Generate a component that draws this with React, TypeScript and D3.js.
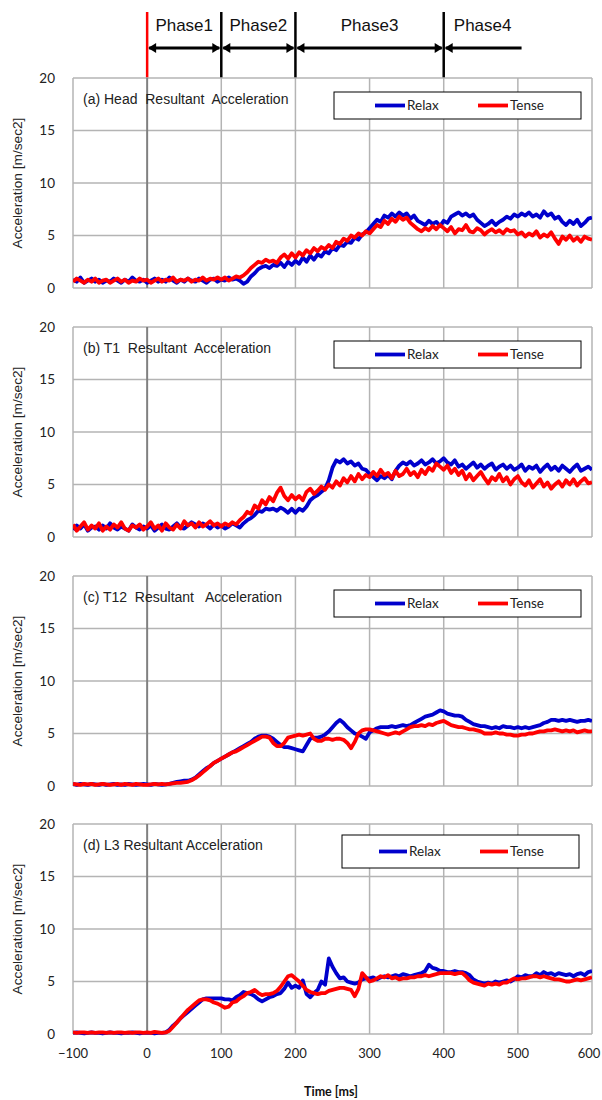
import React from "react";
import * as d3 from "d3";

// Sampling grid of the recorded signals (ms)
const SAMPLE_START = -100;
const SAMPLE_STEP = 5;

const X_TICKS = [-100, 0, 100, 200, 300, 400, 500, 600];
const Y_TICKS = [0, 5, 10, 15, 20];

const PANEL_TITLES = [
  "(a) Head  Resultant  Acceleration",
  "(b) T1  Resultant  Acceleration",
  "(c) T12  Resultant   Acceleration",
  "(d) L3 Resultant Acceleration",
];

const SERIES_NAMES = ["Relax", "Tense"];
const PHASE_NAMES = ["Phase1", "Phase2", "Phase3", "Phase4"];
const PHASE_BOUNDS = [0, 100, 200, 400, 505];

// (a) Head
const headRelax = [
  0.8,0.6,1.0,0.5,0.7,0.9,0.6,0.8,0.5,0.7,0.6,0.9,0.7,0.5,0.8,0.6,1.0,0.7,0.6,0.8,
  0.5,0.7,0.9,0.6,0.8,0.6,1.0,0.7,0.5,0.8,0.6,0.9,0.7,0.6,0.9,0.7,0.5,0.8,0.9,0.6,
  0.8,0.7,1.0,0.8,0.9,0.7,0.4,0.6,1.1,1.4,1.8,2.0,2.1,1.9,2.2,2.1,2.4,2.0,2.5,2.2,
  2.6,2.3,2.9,2.5,3.1,2.7,3.2,3.0,3.5,3.3,3.8,3.6,4.1,4.0,4.4,4.3,4.8,4.6,5.1,5.3,
  5.7,6.1,6.5,6.3,6.9,6.7,7.1,6.8,7.2,6.9,7.1,6.6,6.9,6.4,6.2,6.0,6.4,6.1,6.3,5.9,
  6.4,6.2,6.8,7.0,7.2,6.9,7.1,6.8,7.0,6.5,6.2,5.9,6.1,6.4,6.0,6.3,6.5,6.8,6.6,7.0,
  6.8,7.1,6.9,7.2,6.8,7.0,6.7,7.3,6.9,7.1,6.6,6.8,6.3,6.0,6.4,6.1,6.5,5.9,6.2,6.6,
  6.7,
];
const headTense = [
  0.6,0.9,0.7,0.5,0.8,0.6,0.9,0.5,0.7,0.8,0.5,0.7,0.9,0.6,0.8,0.5,0.7,0.6,0.9,0.7,
  0.8,0.5,0.7,0.9,0.6,0.8,0.7,1.0,0.6,0.8,0.7,0.9,0.6,0.8,0.7,1.0,0.7,0.9,0.8,1.0,
  0.8,1.0,0.7,0.9,1.1,1.0,1.2,1.5,1.9,2.2,2.5,2.4,2.7,2.5,2.6,2.4,2.9,3.2,2.8,3.3,
  2.9,3.4,3.1,3.6,3.3,3.8,3.5,3.9,3.7,4.1,3.8,4.4,4.2,4.7,4.5,5.0,4.8,5.2,5.0,5.4,
  5.2,5.6,6.0,5.8,6.4,6.1,6.6,6.3,6.8,6.5,6.7,6.2,5.9,5.6,5.4,5.7,5.5,5.9,5.6,6.0,
  5.7,5.4,5.8,5.2,5.6,5.5,6.0,5.4,5.3,5.7,5.5,5.1,5.4,5.6,5.3,5.5,5.2,5.6,5.4,5.5,
  5.1,5.3,4.9,5.2,5.0,5.4,4.8,5.1,4.9,5.3,4.7,4.2,4.9,4.6,5.0,4.5,4.8,4.4,4.9,4.7,
  4.6,
];

// (b) T1
const t1Relax = [
  0.7,1.1,0.8,1.2,0.6,0.9,1.0,0.7,1.1,0.8,1.3,0.9,0.7,1.0,0.8,0.6,1.2,0.9,0.7,1.0,
  0.8,1.1,0.6,0.9,1.2,0.8,0.7,1.0,1.3,0.9,0.8,1.1,1.4,1.2,1.0,1.3,1.1,0.8,1.2,0.9,
  1.1,0.8,1.0,1.3,1.1,0.9,1.3,1.6,1.8,2.1,2.5,2.4,2.7,2.6,2.7,2.5,2.8,2.6,2.3,2.7,
  2.3,2.7,2.5,2.9,3.5,3.8,4.0,4.3,4.6,5.4,6.6,7.3,7.1,7.4,7.0,7.2,6.8,7.0,6.5,6.4,
  6.0,5.7,5.4,5.8,5.6,5.9,5.5,6.3,6.8,7.1,6.9,7.2,6.8,7.0,7.3,6.9,7.1,7.4,7.0,7.2,
  7.5,7.1,6.9,7.3,6.7,6.9,6.5,6.8,7.1,6.6,6.9,6.5,6.8,7.0,6.4,6.7,6.9,6.5,6.8,6.4,
  6.6,6.9,6.3,6.7,6.5,6.8,6.2,6.6,6.9,6.4,6.7,6.3,6.8,6.5,6.2,6.6,6.9,6.3,6.5,6.7,
  6.4,
];
const t1Tense = [
  1.2,0.6,1.0,1.4,0.7,1.1,0.8,1.3,0.6,1.0,0.7,1.2,0.9,1.4,0.8,0.6,1.1,0.9,1.2,0.7,
  1.0,1.4,0.8,1.1,0.6,1.3,0.9,0.7,1.2,0.8,1.5,1.1,1.3,0.9,1.4,1.0,1.2,1.5,1.1,1.3,
  1.0,1.3,1.1,1.4,1.2,1.6,1.9,2.4,2.2,3.0,2.7,3.5,3.1,3.8,3.4,4.2,4.7,3.9,3.5,4.0,
  3.6,3.9,3.5,4.3,4.6,4.1,4.4,4.8,4.5,5.0,4.7,5.3,4.9,5.6,5.2,5.8,5.3,6.0,5.5,5.9,
  5.7,6.2,5.8,6.4,5.9,6.1,5.6,6.3,5.8,6.0,6.5,5.9,6.2,5.7,6.4,6.0,6.6,6.3,7.0,6.7,
  6.4,6.8,6.1,6.5,5.9,6.3,5.5,6.0,5.4,5.8,6.2,5.6,5.1,5.7,5.4,6.0,5.3,5.7,5.0,5.5,
  5.8,5.2,4.9,5.4,4.7,5.1,5.5,4.8,5.2,4.6,5.0,5.3,4.8,5.4,5.0,5.5,4.9,5.3,5.6,5.1,
  5.2,
];

// (c) T12
const t12Relax = [
  0.2,0.1,0.2,0.15,0.1,0.2,0.15,0.1,0.2,0.1,0.15,0.2,0.1,0.15,0.1,0.2,0.15,0.1,0.15,0.2,
  0.15,0.1,0.2,0.15,0.1,0.15,0.2,0.3,0.4,0.45,0.5,0.5,0.6,0.8,1.1,1.4,1.7,1.9,2.2,2.4,
  2.6,2.8,3.0,3.2,3.4,3.6,3.8,4.0,4.2,4.5,4.7,4.8,4.8,4.7,4.5,4.2,3.9,3.7,3.7,3.6,
  3.5,3.4,3.3,3.9,4.5,4.6,4.6,4.7,4.9,5.2,5.6,6.0,6.3,6.0,5.6,5.3,5.0,4.9,4.7,4.5,
  5.1,5.3,5.5,5.6,5.6,5.6,5.7,5.6,5.7,5.8,5.7,5.8,6.0,6.2,6.4,6.6,6.7,6.8,7.0,7.2,
  7.1,6.9,6.8,6.7,6.7,6.6,6.3,6.1,5.9,5.8,5.7,5.7,5.6,5.5,5.6,5.5,5.7,5.6,5.6,5.5,
  5.6,5.5,5.6,5.5,5.6,5.7,5.8,6.0,6.1,6.3,6.3,6.2,6.3,6.2,6.3,6.2,6.1,6.2,6.2,6.3,
  6.2,
];
const t12Tense = [
  0.2,0.15,0.1,0.2,0.15,0.2,0.1,0.15,0.2,0.15,0.1,0.15,0.2,0.1,0.2,0.15,0.1,0.2,0.15,0.1,
  0.1,0.15,0.2,0.15,0.2,0.15,0.2,0.25,0.3,0.3,0.35,0.4,0.55,0.75,1.0,1.3,1.6,1.9,2.2,2.4,
  2.6,2.8,3.0,3.2,3.3,3.5,3.7,3.9,4.1,4.3,4.5,4.7,4.7,4.6,4.1,3.8,3.8,4.1,4.6,4.7,
  4.8,4.9,4.8,4.9,5.0,4.5,4.3,4.3,4.5,4.5,4.4,4.5,4.5,4.4,4.1,3.6,4.2,5.0,5.3,5.4,
  5.4,5.3,5.2,5.1,5.0,4.9,5.0,5.1,5.0,5.2,5.4,5.6,5.7,5.7,5.8,5.7,5.9,5.8,6.0,6.1,
  6.2,6.0,5.8,5.7,5.6,5.6,5.5,5.4,5.4,5.3,5.2,5.0,5.0,5.0,5.1,5.0,5.0,4.9,4.9,4.8,
  4.8,4.9,4.9,5.0,5.0,5.1,5.2,5.2,5.3,5.3,5.4,5.3,5.2,5.3,5.2,5.3,5.1,5.2,5.3,5.2,
  5.2,
];

// (d) L3
const l3Relax = [
  0.1,0.15,0.1,0.05,0.1,0.15,0.1,0.1,0.05,0.1,0.15,0.1,0.1,0.05,0.1,0.1,0.15,0.1,0.05,0.1,
  0.1,0.1,0.05,0.1,0.1,0.15,0.4,0.8,1.1,1.5,1.8,2.1,2.4,2.7,3.0,3.3,3.4,3.4,3.4,3.4,
  3.4,3.3,3.3,3.2,3.5,3.7,4.0,3.9,3.8,3.6,3.3,3.1,3.3,3.5,3.6,3.8,3.9,4.3,4.9,4.4,
  4.6,4.4,5.1,3.8,3.5,3.9,4.2,5.0,4.7,7.2,6.4,5.8,5.3,5.4,5.0,4.9,4.8,4.9,5.2,5.3,
  5.3,5.4,5.2,5.4,5.5,5.4,5.5,5.6,5.5,5.7,5.6,5.5,5.6,5.7,5.8,6.0,6.6,6.3,6.2,6.0,
  6.0,5.9,5.9,6.0,5.9,5.9,5.8,5.6,5.2,5.0,4.9,4.8,4.9,4.8,5.0,4.9,5.0,5.1,5.0,5.2,
  5.5,5.4,5.6,5.5,5.5,5.8,5.6,5.9,5.7,5.8,5.6,5.8,5.7,5.6,5.7,5.5,5.7,5.8,5.6,5.9,
  6.0,
];
const l3Tense = [
  0.15,0.1,0.15,0.15,0.1,0.15,0.1,0.15,0.15,0.1,0.15,0.1,0.15,0.15,0.1,0.15,0.1,0.15,0.15,0.1,
  0.15,0.1,0.2,0.15,0.1,0.15,0.3,0.7,1.1,1.5,1.9,2.3,2.6,2.9,3.2,3.3,3.3,3.2,3.0,2.9,
  2.7,2.5,2.6,3.0,3.1,3.4,3.6,3.9,4.0,4.2,3.9,3.7,3.8,3.8,3.9,4.1,4.5,5.0,5.5,5.6,
  5.3,5.0,4.6,4.2,4.0,3.9,3.8,3.9,3.9,4.1,4.2,4.3,4.4,4.4,4.3,4.2,3.6,4.3,5.8,5.4,
  5.0,5.1,5.3,5.5,5.4,5.6,5.3,5.4,5.2,5.3,5.3,5.4,5.4,5.5,5.5,5.6,5.5,5.6,5.7,5.8,
  5.8,5.8,5.8,5.7,5.8,5.8,5.5,5.1,4.9,4.8,4.7,4.6,4.8,4.7,4.8,4.7,4.9,4.9,5.1,5.3,
  5.2,5.3,5.3,5.4,5.5,5.5,5.4,5.5,5.4,5.3,5.2,5.2,5.1,5.0,5.0,5.1,5.2,5.1,5.2,5.3,
  5.4,
];

const PANEL_SERIES = [
  [headRelax, headTense],
  [t1Relax, t1Tense],
  [t12Relax, t12Tense],
  [l3Relax, l3Tense],
];

// ---- layout ----
const W = 602;
const H = 1100;
const PLOT_LEFT = 73;
const PLOT_RIGHT = 592;
const PANEL_TOPS = [78, 327, 576, 824];
const PANEL_H = 210;
const COLORS = ["#0000cc", "#ff0000"];
const LINE_W = 3.8;

// legend geometry per panel (box x0, x1, top offset, bottom offset, item offsets)
const LEGENDS = [
  { x0: 334, x1: 581, t: 14, b: 41, l1: 375, l2: 478, len: 30 },
  { x0: 334, x1: 581, t: 14, b: 41, l1: 375, l2: 478, len: 30 },
  { x0: 334, x1: 581, t: 14, b: 41, l1: 375, l2: 478, len: 30 },
  { x0: 342, x1: 579, t: 11, b: 44, l1: 379, l2: 480, len: 28 },
];

const x = d3.scaleLinear().domain([-100, 600]).range([PLOT_LEFT, PLOT_RIGHT]);

const SANS = "'Liberation Sans', Arial, sans-serif";
const CAL = "Lato, 'Open Sans', sans-serif";

function Panel({ idx }: { idx: number }) {
  const top = PANEL_TOPS[idx];
  const y = d3.scaleLinear().domain([0, 20]).range([top + PANEL_H, top]);
  const line = d3
    .line<number>()
    .x((_, i) => x(SAMPLE_START + i * SAMPLE_STEP))
    .y((v) => y(v))
    .curve(d3.curveLinear);
  const lg = LEGENDS[idx];
  const cy = top + (lg.t + lg.b) / 2;
  const clipId = `clip-${idx}`;
  return (
    <g>
      <defs>
        <clipPath id={clipId}>
          <rect x={PLOT_LEFT} y={top - 2} width={PLOT_RIGHT - PLOT_LEFT} height={PANEL_H + 4} />
        </clipPath>
      </defs>
      {/* horizontal grid */}
      {Y_TICKS.map((t) => (
        <line key={"h" + t} x1={PLOT_LEFT} x2={PLOT_RIGHT} y1={y(t)} y2={y(t)} stroke="#b4b4b4" strokeWidth={1.5} />
      ))}
      {/* vertical grid */}
      {X_TICKS.map((t) => (
        <line
          key={"v" + t}
          x1={x(t)}
          x2={x(t)}
          y1={top}
          y2={top + PANEL_H}
          stroke={t === 0 ? "#808080" : "#b4b4b4"}
          strokeWidth={t === 0 ? 2 : 1.5}
        />
      ))}
      {/* y tick labels */}
      {Y_TICKS.map((t) => (
        <text key={"yl" + t} x={55} y={y(t)} dy="0.36em" textAnchor="end" fontFamily={CAL} fontSize={13.5} fill="#222">
          {t}
        </text>
      ))}
      {/* axis title */}
      <text
        transform={`translate(22,${top + PANEL_H / 2}) rotate(-90)`}
        textAnchor="middle"
        fontFamily={SANS}
        fontSize={13.7}
        fill="#222"
      >
        Acceleration [m/sec2]
      </text>
      {/* panel title */}
      <text x={83} y={top + 26} fontFamily={SANS} fontSize={14} fill="#222" style={{ whiteSpace: "pre" }}>
        {PANEL_TITLES[idx]}
      </text>
      {/* series */}
      <g clipPath={`url(#${clipId})`}>
        {PANEL_SERIES[idx].map((s, k) => (
          <path key={k} d={line(s) || ""} fill="none" stroke={COLORS[k]} strokeWidth={LINE_W} strokeLinejoin="round" />
        ))}
      </g>
      {/* legend */}
      <rect x={lg.x0} y={top + lg.t} width={lg.x1 - lg.x0} height={lg.b - lg.t} fill="#fff" stroke="#000" strokeWidth={1} />
      {[lg.l1, lg.l2].map((lx, k) => (
        <g key={"lg" + k}>
          <line x1={lx} x2={lx + lg.len} y1={cy} y2={cy} stroke={COLORS[k]} strokeWidth={LINE_W} />
          <text x={lx + lg.len + 2} y={cy} dy="0.36em" fontFamily={CAL} fontSize={13.5} fill="#222">
            {SERIES_NAMES[k]}
          </text>
        </g>
      ))}
    </g>
  );
}

function PhaseHeader() {
  const topY = 12;
  const bottomY = PANEL_TOPS[0];
  const arrowY = 48;
  const head = 8;
  const half = 5;
  const lines = PHASE_BOUNDS.slice(0, 4);
  const segs = PHASE_BOUNDS.slice(0, 4).map((b, i) => [b, PHASE_BOUNDS[i + 1]]);
  return (
    <g>
      {segs.map(([a, b], i) => {
        const xa = x(a);
        const xb = x(b);
        const last = i === segs.length - 1;
        return (
          <g key={"seg" + i}>
            <line x1={xa + 2} x2={last ? xb : xb - 2} y1={arrowY} y2={arrowY} stroke="#000" strokeWidth={3} />
            <path d={`M${xa + 1},${arrowY} L${xa + 1 + head},${arrowY - half} L${xa + 1 + head},${arrowY + half} Z`} fill="#000" />
            {!last && (
              <path d={`M${xb - 1},${arrowY} L${xb - 1 - head},${arrowY - half} L${xb - 1 - head},${arrowY + half} Z`} fill="#000" />
            )}
            <text x={(xa + xb) / 2} y={31} textAnchor="middle" fontFamily={SANS} fontSize={17} fill="#111">
              {PHASE_NAMES[i]}
            </text>
          </g>
        );
      })}
      {lines.map((b, i) => (
        <line
          key={"pl" + i}
          x1={x(b)}
          x2={x(b)}
          y1={topY}
          y2={bottomY}
          stroke={i === 0 ? "#ff0000" : "#000"}
          strokeWidth={2.5}
        />
      ))}
    </g>
  );
}

export default function App() {
  const bottom = PANEL_TOPS[3] + PANEL_H;
  const lastTick = X_TICKS[X_TICKS.length - 1];
  return (
    <svg
      width={W}
      height={H}
      viewBox={`0 0 ${W} ${H}`}
      style={{ position: "absolute", left: 0, top: 0, background: "#fff" }}
    >
      <rect width={W} height={H} fill="#fff" />
      <PhaseHeader />
      {PANEL_TOPS.map((_, i) => (
        <Panel key={i} idx={i} />
      ))}
      {X_TICKS.map((t) => (
        <text
          key={"xl" + t}
          x={t === lastTick ? x(t) - 3 : x(t)}
          y={bottom + 24}
          textAnchor="middle"
          fontFamily={CAL}
          fontSize={13}
          fill="#222"
        >
          {t < 0 ? "\u2212" + Math.abs(t) : t}
        </text>
      ))}
      <text x={331} y={bottom + 62} textAnchor="middle" fontFamily={CAL} fontSize={12.5} fontWeight="bold" fill="#111">
        Time [ms]
      </text>
    </svg>
  );
}
